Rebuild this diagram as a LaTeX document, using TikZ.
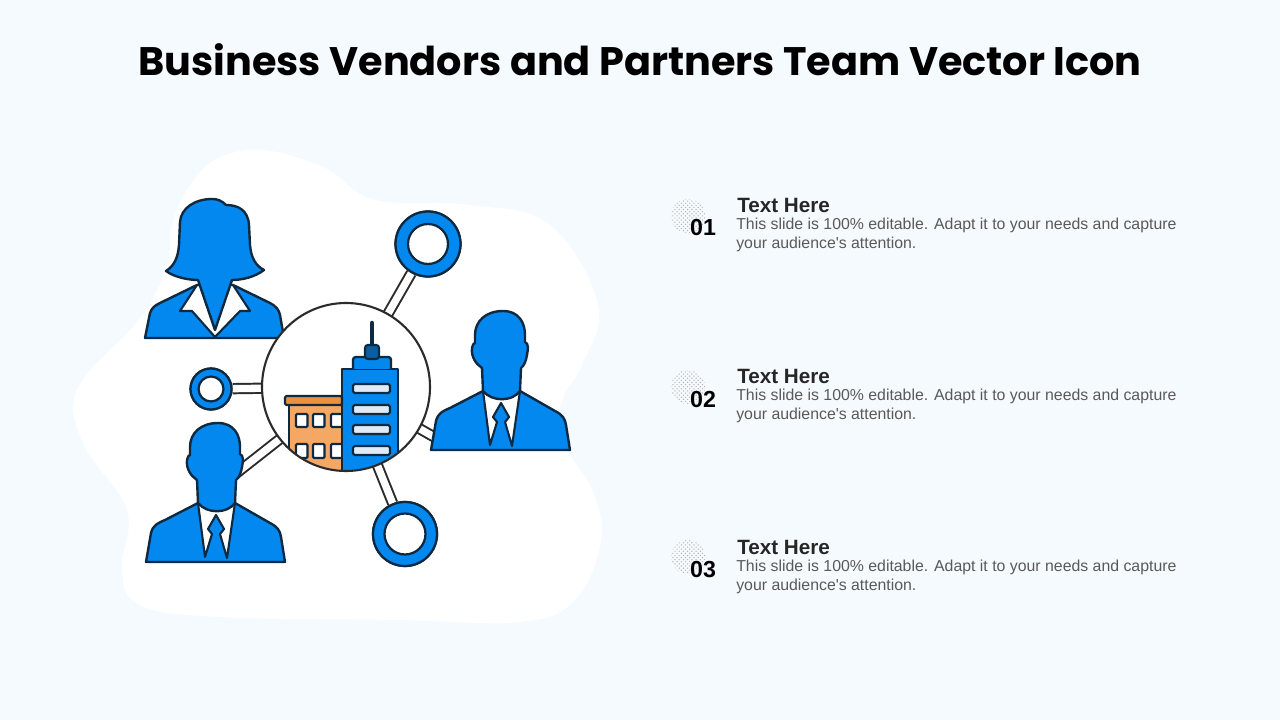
\documentclass[tikz,border=0pt]{standalone}
\usepackage{fontspec}
\setmainfont{Liberation Sans}
\newfontfamily\titlefont{Poppins}
\usetikzlibrary{patterns}
\definecolor{pagebg}{HTML}{F5FAFF}
\definecolor{iconblue}{HTML}{0288EE}
\definecolor{darkblue}{HTML}{0B5E9F}
\definecolor{outline}{HTML}{0F2A40}
\definecolor{hubline}{HTML}{2B2B2B}
\definecolor{roofor}{HTML}{EE8F3C}
\definecolor{wallor}{HTML}{F5A863}
\definecolor{glass}{HTML}{E0EBF7}
\tikzset{
  icon/.style={fill=iconblue, draw=outline, line width=1.7pt, line join=round},
  shirt/.style={fill=white, draw=outline, line width=1.5pt, line join=round},
  link/.style={draw=hubline, line width=1.4pt, double=white, double distance=5.2pt},
  ringout/.style={circle, fill=iconblue, draw=outline, line width=1.6pt, inner sep=0pt},
  ringin/.style={circle, fill=white, draw=outline, line width=1.6pt, inner sep=0pt},
  pane/.style={fill=glass, draw=outline, line width=1.5pt, rounded corners=1.2pt},
  box/.style={fill=white, draw=outline, line width=1.5pt, rounded corners=0.8pt},
  man/.pic={
    % Body
    \draw[icon] (-69,-1) -- (-64,-30) .. controls (-62,-38) and (-57,-40) .. (-50,-43)
      -- (-17,-60) -- (20,-60) -- (55,-40) .. controls (63,-36) and (65,-32) .. (66,-26)
      -- (70,-1) -- cycle;
    % Shirt, the tie is the jacket showing through
    \draw[shirt] (-17,-60) -- (-10,-6) -- (-3,-29) -- (-7,-34) -- (1,-48) -- (9,-34) -- (5,-29)
      -- (12,-5) -- (20,-60) -- cycle;
    % Head
    \draw[icon] (3,-140) .. controls (19,-140) and (25,-128) .. (25,-116) -- (25,-109)
      .. controls (29,-107) and (28,-102) .. (27,-96)
      .. controls (26,-90) and (24,-85) .. (21,-83) -- (20,-60)
      .. controls (12,-49) and (-8,-49) .. (-17,-60) -- (-18,-83)
      .. controls (-24,-87) and (-29,-94) .. (-28,-103)
      .. controls (-27,-107) and (-26,-108) .. (-25,-108) -- (-25,-116)
      .. controls (-25,-130) and (-14,-140) .. cycle;
  }
}
\begin{document}
\begin{tikzpicture}[x=0.025cm, y=-0.025cm]
  \useasboundingbox (0,0) rectangle (1280,720);
  \fill[pagebg] (0,0) rectangle (1280,720);

  % Title
  \node[anchor=base, inner sep=0pt] (title) at (640,76)
    {\titlefont\bfseries\fontsize{28.3}{34}\selectfont Business Vendors and Partners Team Vector Icon};

  % Backdrop
  \fill[white] plot[smooth cycle, tension=0.65] coordinates {(262,150) (325,168) (375,200) (470,205)
    (550,225) (598,305) (582,365) (562,400) (562,440) (592,490) (601,540) (575,600) (520,622) (400,620)
    (220,617) (140,605) (122,570) (127,510) (84,445) (77,390) (130,330) (152,300) (168,262)
    (172,225) (187,190) (215,160)};

  % Hub and rings
  \node[circle, minimum size=168*0.711pt, inner sep=0pt] (hub) at (346,387) {};
  \node[ringout, minimum size=65*0.711pt] (ringtop) at (428,244) {};
  \node[ringout, minimum size=41*0.711pt] (ringleft) at (211,389) {};
  \node[ringout, minimum size=64*0.711pt] (ringbottom) at (405,534) {};
  \coordinate (manright) at (436,438);
  \coordinate (manleft) at (215,490);

  % Connectors
  \draw[link] (hub) -- (ringtop);
  \draw[link] (hub) -- (ringleft);
  \draw[link] (hub) -- (ringbottom);
  \draw[link] (hub) -- (manright);
  \draw[link] (hub) -- (manleft);

  % Rings on top of connectors
  \node[ringout, minimum size=65*0.711pt] at (ringtop) {};
  \node[ringout, minimum size=41*0.711pt] at (ringleft) {};
  \node[ringout, minimum size=64*0.711pt] at (ringbottom) {};
  \node[ringin, minimum size=40*0.711pt] at (ringtop) {};
  \node[ringin, minimum size=25*0.711pt] at (ringleft) {};
  \node[ringin, minimum size=41*0.711pt] at (ringbottom) {};

  % Men
  \pic at (500,451) {man};
  \pic at (215,563) {man};

  % Woman
  \draw[icon] (145,338) -- (150,313) .. controls (152,308) and (154,306) .. (160,303)
    -- (197,285) -- (233,285) -- (270,303) .. controls (276,306) and (279,310) .. (280,315)
    -- (284,338) -- cycle;
  \draw[shirt] (197,285) -- (180,311) -- (192,311) -- (215,337) -- (240,311) -- (250,311) -- (233,285) -- cycle;
  \draw[icon] (212,199) .. controls (218,199) and (222,201) .. (226,205)
    .. controls (238,205) and (248,210) .. (249,225) -- (250,245)
    .. controls (251,258) and (256,266) .. (264,270)
    .. controls (255,277) and (242,280) .. (232,280) -- (215,330) -- (198,280)
    .. controls (188,280) and (174,277) .. (166,271)
    .. controls (174,266) and (178,258) .. (179,245) -- (180,222)
    .. controls (181,208) and (195,199) .. cycle;

  % Hub circle with buildings
  \fill[white] (346,387) circle (84);
  \begin{scope}
    \clip (346,387) circle (84);
    \draw[fill=wallor, draw=outline, line width=1.5pt] (289,405) rectangle (342,475);
    \foreach \wx in {296,313,331} {
      \draw[box] (\wx,414) rectangle ++(11.5,13);
      \draw[box] (\wx,444) rectangle ++(11.5,14);
    }
    \draw[icon] (342,369) rectangle (398,480);
  \end{scope}
  \draw[fill=roofor, draw=outline, line width=1.5pt, rounded corners=1pt] (285,396) rectangle (342,405);
  \draw[icon, rounded corners=2pt] (353,369) -- (353,357) -- (391,357) -- (391,369);
  \draw[outline, line width=3.2pt, line cap=round] (372,323) -- (372,345);
  \draw[fill=darkblue, draw=outline, line width=1.5pt, rounded corners=2pt] (365,345) rectangle (379,359);
  \foreach \wy in {384,405,425,446}
    \draw[pane] (353,\wy) rectangle (390,\wy+9);
  \draw[hubline, line width=1.5pt] (346,387) circle (84);

  % Legend
  \foreach \n/\dy in {01/0,02/171,03/341} {
    \fill[pattern=crosshatch dots, pattern color=black!30] (688,216+\dy) circle (17);
    \node[anchor=base, inner sep=0pt] (num\n) at (703,236+\dy) {\bfseries\fontsize{16.5}{18}\selectfont \n};
    \node[anchor=base west, inner sep=0pt, text=black!85] (head\n) at (737,213+\dy)
      {\bfseries\fontsize{14.7}{16}\selectfont Text Here};
    \node[anchor=base west, inner sep=0pt, text=black!65] (bodya\n) at (736,230+\dy)
      {\fontsize{11.27}{14}\selectfont This slide is 100\% editable. Adapt it to your needs and capture};
    \node[anchor=base west, inner sep=0pt, text=black!65] (bodyb\n) at (736,249+\dy)
      {\fontsize{11.27}{14}\selectfont your audience\textquotesingle s attention.};
  }
\end{tikzpicture}
\end{document}
